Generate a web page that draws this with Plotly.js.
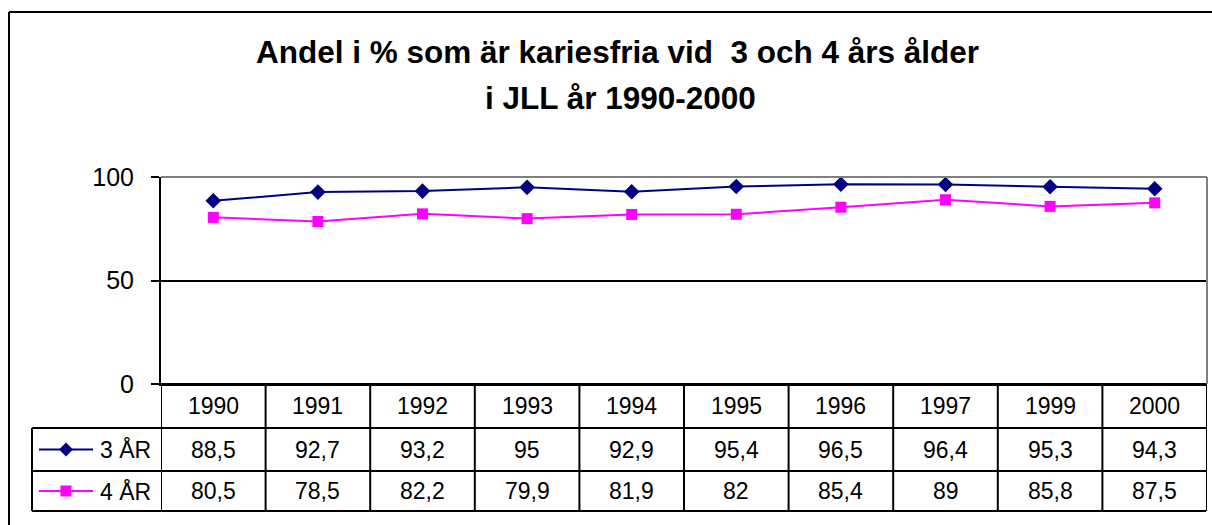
<!DOCTYPE html>
<html>
<head>
<meta charset="utf-8">
<script src="https://cdn.plot.ly/plotly-3.0.1.min.js"></script>
<style>html,body{margin:0;padding:0;background:#fff;}#chart{width:1212px;height:525px;}</style>
</head>
<body>
<div id="chart"></div>
<script>
// ---- data ----
var years = ["1990","1991","1992","1993","1994","1995","1996","1997","1999","2000"];
var ar3 = [88.5, 92.7, 93.2, 95, 92.9, 95.4, 96.5, 96.4, 95.3, 94.3];
var ar4 = [80.5, 78.5, 82.2, 79.9, 81.9, 82, 85.4, 89, 85.8, 87.5];
var seriesNames = ["3 ÅR", "4 ÅR"];
var yTicks = [0, 50, 100];
var titleLines = ["Andel i % som är kariesfria vid  3 och 4 års ålder", "i JLL år 1990-2000"];

// ---- layout helpers ----
var W = 1212, H = 525;
function px(p){ return p / W; }
function py(p){ return 1 - p / H; }
var FONT = "Arial, 'Liberation Sans', sans-serif";
var navy = "#000080", magenta = "#FF00FF";

var plotL = 161, plotR = 1207, plotT = 177, plotB = 384;
var tableL = 32, tableR = 1206;
var rowLines = [384, 428, 471, 511];
var rowCenters = [406, 449.5, 491];

var traces = [
  {x: years, y: ar3, name: seriesNames[0], type: "scatter", mode: "lines+markers",
   line: {color: navy, width: 2}, marker: {symbol: "diamond", size: 12, color: navy}, cliponaxis: false},
  {x: years, y: ar4, name: seriesNames[1], type: "scatter", mode: "lines+markers",
   line: {color: magenta, width: 2}, marker: {symbol: "square", size: 11, color: magenta}, cliponaxis: false}
];

var shapes = [];
var annotations = [];
var blk = {color: "#000", width: 2};

// outer chart border (top and left visible)
shapes.push({type: "line", xref: "paper", yref: "paper", x0: px(9), x1: px(1212), y0: py(12), y1: py(12), line: blk});
shapes.push({type: "line", xref: "paper", yref: "paper", x0: px(9), x1: px(9), y0: py(12), y1: py(525), line: blk});

// plot area border (top and right, gray)
shapes.push({type: "line", xref: "paper", yref: "paper", x0: px(plotL), x1: px(plotR), y0: py(plotT), y1: py(plotT), line: {color: "#808080", width: 2}, layer: "above"});
shapes.push({type: "line", xref: "paper", yref: "paper", x0: px(plotR), x1: px(plotR), y0: py(plotT), y1: py(plotB), line: {color: "#808080", width: 2}, layer: "above"});

// table horizontal lines
shapes.push({type: "line", xref: "paper", yref: "paper", x0: px(plotL), x1: px(tableR), y0: py(rowLines[0]), y1: py(rowLines[0]), line: blk});
for (var r = 1; r < rowLines.length; r++) {
  shapes.push({type: "line", xref: "paper", yref: "paper", x0: px(tableL), x1: px(tableR), y0: py(rowLines[r]), y1: py(rowLines[r]), line: blk});
}
// table vertical lines: column borders on category axis
for (var i = 0; i <= years.length; i++) {
  shapes.push({type: "line", xref: "x", yref: "paper", x0: i - 0.5, x1: i - 0.5, y0: py(rowLines[0]), y1: py(rowLines[3]), line: blk});
}
// legend column left border
shapes.push({type: "line", xref: "paper", yref: "paper", x0: px(tableL), x1: px(tableL), y0: py(rowLines[1]), y1: py(rowLines[3]), line: blk});

// legend keys
var keyL = 39, keyR = 93, keyC = 66;
[navy, magenta].forEach(function(c, k){
  var yc = rowCenters[k + 1];
  shapes.push({type: "line", xref: "paper", yref: "paper", x0: px(keyL), x1: px(keyR), y0: py(yc), y1: py(yc), line: {color: c, width: 2}});
  if (k === 0) {
    var d = 7;
    shapes.push({type: "path", xref: "paper", yref: "paper",
      path: "M " + px(keyC - d) + " " + py(yc) + " L " + px(keyC) + " " + py(yc - d) + " L " + px(keyC + d) + " " + py(yc) + " L " + px(keyC) + " " + py(yc + d) + " Z",
      fillcolor: c, line: {color: c, width: 0}});
  } else {
    var s = 5.5;
    shapes.push({type: "rect", xref: "paper", yref: "paper", x0: px(keyC - s), x1: px(keyC + s), y0: py(yc - s), y1: py(yc + s), fillcolor: c, line: {color: c, width: 0}});
  }
  annotations.push({xref: "paper", yref: "paper", x: px(98), y: py(yc), xanchor: "left", yanchor: "middle",
    text: seriesNames[k], showarrow: false, font: {family: FONT, size: 23, color: "#000"}});
});

// table text
function fmt(v){ return String(v).replace(".", ","); }
years.forEach(function(yr, i){
  annotations.push({xref: "x", yref: "paper", x: i, y: py(rowCenters[0]), text: yr, showarrow: false, xanchor: "center", yanchor: "middle", font: {family: FONT, size: 23, color: "#000"}});
  annotations.push({xref: "x", yref: "paper", x: i, y: py(rowCenters[1]), text: fmt(ar3[i]), showarrow: false, xanchor: "center", yanchor: "middle", font: {family: FONT, size: 23, color: "#000"}});
  annotations.push({xref: "x", yref: "paper", x: i, y: py(rowCenters[2]), text: fmt(ar4[i]), showarrow: false, xanchor: "center", yanchor: "middle", font: {family: FONT, size: 23, color: "#000"}});
});

// title lines
annotations.push({xref: "paper", yref: "paper", x: px(617), y: py(52), text: "<b>" + titleLines[0] + "</b>", showarrow: false, xanchor: "center", yanchor: "middle", font: {family: FONT, size: 31.5, color: "#000"}});
annotations.push({xref: "paper", yref: "paper", x: px(620), y: py(98), text: "<b>" + titleLines[1] + "</b>", showarrow: false, xanchor: "center", yanchor: "middle", font: {family: FONT, size: 31.5, color: "#000"}});

var layout = {
  width: W, height: H, autosize: false,
  margin: {l: 0, r: 0, t: 0, b: 0, pad: 0},
  paper_bgcolor: "#fff", plot_bgcolor: "#fff",
  showlegend: false,
  xaxis: {type: "category", domain: [px(plotL), px(plotR)], range: [-0.5, years.length - 0.5],
    showticklabels: false, ticks: "", showgrid: false, zeroline: false,
    showline: true, linecolor: "#000", linewidth: 2, fixedrange: true},
  yaxis: {domain: [py(plotB), py(plotT)], range: [0, 100], tickvals: yTicks, ticktext: yTicks.map(String),
    ticks: "outside", ticklen: 8, tickwidth: 2, tickcolor: "#000", ticklabelstandoff: 12,
    tickfont: {family: FONT, size: 25, color: "#000"},
    showgrid: true, gridcolor: "#000", gridwidth: 2, zeroline: false,
    showline: true, linecolor: "#000", linewidth: 2, fixedrange: true},
  shapes: shapes,
  annotations: annotations
};

Plotly.newPlot("chart", traces, layout, {staticPlot: true, displayModeBar: false});
</script>
</body>
</html>
